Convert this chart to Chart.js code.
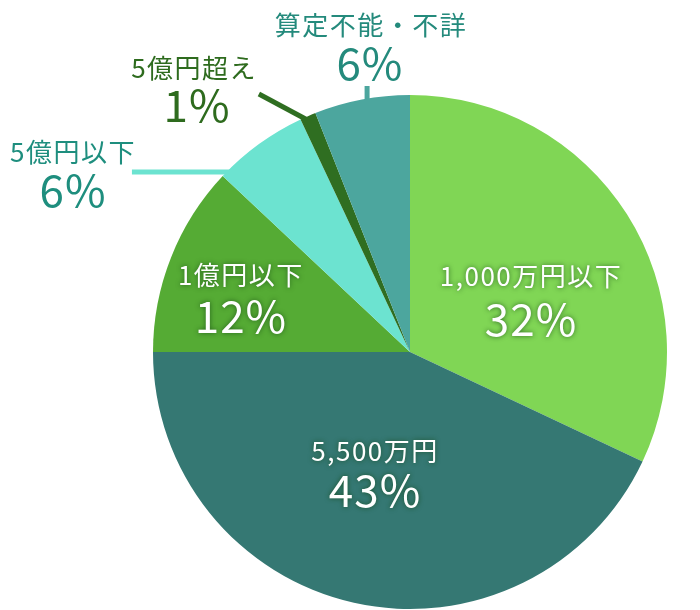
<!DOCTYPE html>
<html><head><meta charset="utf-8">
<script src="https://cdn.jsdelivr.net/npm/chart.js@4"></script>
<style>html,body{margin:0;padding:0;background:#fff;}canvas{display:block;}</style>
</head><body>
<canvas id="c" width="700" height="610"></canvas>
<script>
const categories = ['1,000万円以下', '5,500万円', '1億円以下', '5億円以下', '5億円超え', '算定不能・不詳'];
const shares = [32, 43, 12, 6, 1, 6];
const pctLabels = ['32%', '43%', '12%', '6%', '1%', '6%'];
const sliceColors = ['#80d655', '#357873', '#55ab34', '#6ce3d0', '#2f6e21', '#4ca69e'];

// label placement in units of radius relative to pie centre
const labelLayout = [
  {name:[0.471,-0.296], pct:[0.471,-0.128], color:'#ffffff', inside:true},
  {name:[-0.136,0.385], pct:[-0.136,0.537], color:'#ffffff', inside:true},
  {name:[-0.658,-0.300], pct:[-0.658,-0.140], color:'#ffffff', inside:true},
  {name:[-1.311,-0.778], pct:[-1.311,-0.630], color:'#1e8e7e', inside:false, line:[[-1.082,-0.700],[-0.584,-0.700]]},
  {name:[-0.840,-1.105], pct:[-0.829,-0.961], color:'#2e6b1e', inside:false, line:[[-0.588,-1.004],[-0.370,-0.887]]},
  {name:[-0.152,-1.272], pct:[-0.156,-1.124], color:'#248a7c', inside:false, line:[[-0.167,-1.035],[-0.167,-0.942]]}
];

const labelPlugin = {
  id:'labelPlugin',
  beforeDatasetsDraw(chart){
    const ctx = chart.ctx;
    const arc = chart.getDatasetMeta(0).data[0];
    const cx = arc.x, cy = arc.y, r = arc.outerRadius;
    ctx.save();
    labelLayout.forEach((L,i)=>{
      if(!L.line) return;
      ctx.strokeStyle = sliceColors[i];
      ctx.lineWidth = 5;
      ctx.beginPath();
      ctx.moveTo(cx+L.line[0][0]*r, cy+L.line[0][1]*r);
      ctx.lineTo(cx+L.line[1][0]*r, cy+L.line[1][1]*r);
      ctx.stroke();
    });
    ctx.restore();
  },
  afterDatasetsDraw(chart){
    const ctx = chart.ctx;
    const arc = chart.getDatasetMeta(0).data[0];
    const cx = arc.x, cy = arc.y, r = arc.outerRadius;
    ctx.save();
    ctx.textAlign='center';
    ctx.textBaseline='middle';
    labelLayout.forEach((L,i)=>{
      ctx.fillStyle = L.color;
      if(L.inside){
        ctx.shadowColor='rgba(20,70,20,0.75)';
        ctx.shadowBlur=5;
      } else {
        ctx.shadowColor='transparent';
        ctx.shadowBlur=0;
      }
      ctx.font = '400 26px "Noto Sans CJK JP"';
      ctx.letterSpacing = '1.5px';
      ctx.fillText(categories[i], cx+L.name[0]*r, cy+L.name[1]*r);
      ctx.font = '400 44px "Noto Sans CJK JP"';
      ctx.letterSpacing = '1px';
      ctx.fillText(pctLabels[i], cx+L.pct[0]*r, cy+L.pct[1]*r);
    });
    ctx.restore();
  }
};

new Chart(document.getElementById('c'), {
  type:'pie',
  data:{labels:categories, datasets:[{data:shares, backgroundColor:sliceColors, borderWidth:0}]},
  options:{
    responsive:false,
    animation:false,
    layout:{padding:{left:153,right:33,top:95,bottom:1}},
    plugins:{legend:{display:false}, tooltip:{enabled:false}}
  },
  plugins:[labelPlugin]
});
</script>
</body></html>
